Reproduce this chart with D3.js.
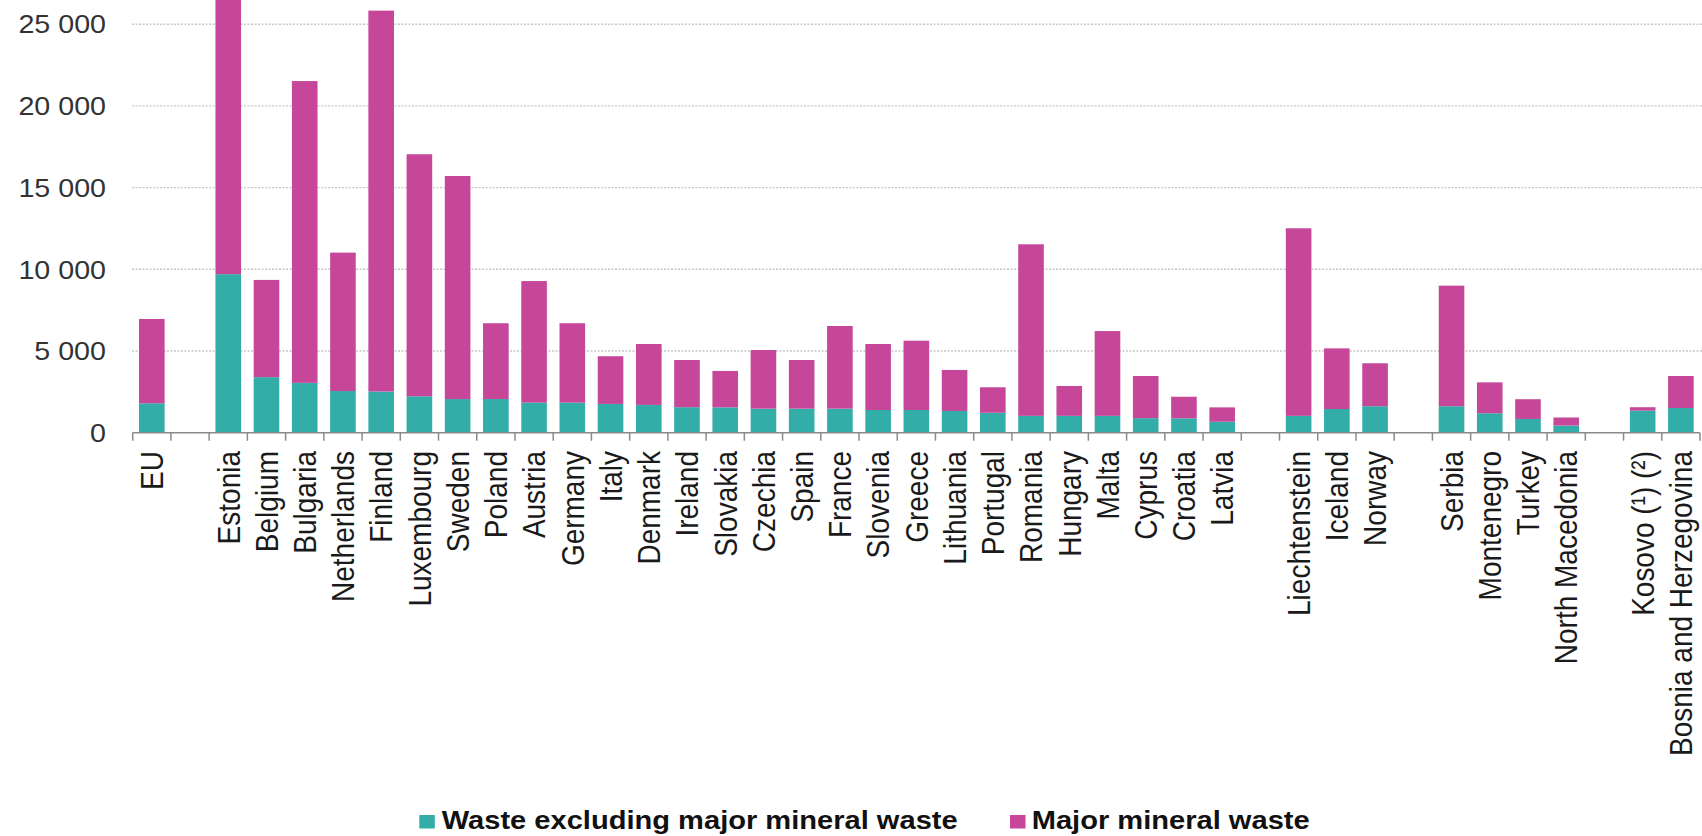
<!DOCTYPE html>
<html>
<head>
<meta charset="utf-8">
<script src="https://cdn.jsdelivr.net/npm/d3@7"></script>
<style>
  body { margin: 0; background: #fff; }
  svg { display: block; }
</style>
</head>
<body>
<svg id="chart"></svg>
<script>
// categories, "" entries are the empty slots between country groups
const countries = [
  "EU", "",
  "Estonia", "Belgium", "Bulgaria", "Netherlands", "Finland", "Luxembourg", "Sweden",
  "Poland", "Austria", "Germany", "Italy", "Denmark", "Ireland", "Slovakia", "Czechia",
  "Spain", "France", "Slovenia", "Greece", "Lithuania", "Portugal", "Romania", "Hungary",
  "Malta", "Cyprus", "Croatia", "Latvia", "",
  "Liechtenstein", "Iceland", "Norway", "",
  "Serbia", "Montenegro", "Turkey", "North Macedonia", "",
  "Kosovo (¹) (²)", "Bosnia and Herzegovina"
];

// kg per inhabitant
const wasteExclMineral = [
  1800, null,
  9700, 3400, 3050, 2550, 2520, 2230, 2060,
  2060, 1840, 1840, 1760, 1700, 1560, 1550, 1470,
  1470, 1470, 1390, 1390, 1330, 1220, 1030, 1030,
  1030, 890, 880, 670, null,
  1030, 1450, 1620, null,
  1620, 1190, 840, 440, null,
  1350, 1510
];

const majorMineral = [
  5160, null,
  17300, 5950, 18470, 8470, 23310, 14810, 13650,
  4640, 7440, 4860, 2920, 3730, 2890, 2230, 3590,
  2980, 5060, 4040, 4240, 2510, 1560, 10500, 1830,
  5190, 2580, 1320, 880, null,
  11480, 3710, 2630, null,
  7380, 1890, 1210, 490, null,
  210, 1960
];

const seriesNames = ["Waste excluding major mineral waste", "Major mineral waste"];
const seriesColors = ["#32ada8", "#c6479a"];
const yTicks = [0, 5000, 10000, 15000, 20000, 25000];

const width = 1702;
const height = 836;
const stretch = 1.12; // the picture's text is a little wider than it is tall

const svg = d3.select("#chart")
  .attr("width", width)
  .attr("height", height)
  .style("font-family", "'Liberation Sans', Arial, sans-serif");

// slot keys so that the empty slots stay distinct
const slots = countries.map((c, i) => i);
const rows = slots.map((i) => ({
  i: i,
  name: countries[i],
  low: wasteExclMineral[i],
  high: majorMineral[i],
}));

const x = d3.scaleBand()
  .domain(slots)
  .range([132.7, 1700])
  .paddingInner(0.33)
  .paddingOuter(0.165);

const y = d3.scaleLinear()
  .domain([0, 26480])
  .range([432.7, 0]);

// grid
svg.append("g")
  .selectAll("line")
  .data(yTicks.filter((d) => d > 0))
  .join("line")
  .attr("x1", 132)
  .attr("x2", width)
  .attr("y1", (d) => y(d))
  .attr("y2", (d) => y(d))
  .attr("stroke", "#c8c8c8")
  .attr("stroke-width", 1.4)
  .attr("stroke-dasharray", "2,1.5");

// y labels
svg.append("g")
  .selectAll("text")
  .data(yTicks)
  .join("text")
  .attr("transform", (d) => `translate(106,${y(d)}) scale(${stretch},1)`)
  .attr("text-anchor", "end")
  .attr("dy", "0.36em")
  .attr("font-size", 25.6)
  .attr("fill", "#333")
  .text((d) => d3.format(",")(d).replace(/,/g, " "));

// stacked bars
const stack = d3.stack().keys(["low", "high"]);
const layers = stack(rows.filter((r) => r.name !== ""));

svg.append("g")
  .selectAll("g")
  .data(layers)
  .join("g")
  .attr("fill", (d, i) => seriesColors[i])
  .selectAll("rect")
  .data((d) => d)
  .join("rect")
  .attr("x", (d) => x(d.data.i))
  .attr("width", x.bandwidth())
  .attr("y", (d) => y(d[1]))
  .attr("height", (d) => y(d[0]) - y(d[1]));

// x axis line and ticks at slot borders
const gap = (x.step() - x.bandwidth()) / 2;
const borders = slots.map((s) => x(s) - gap).concat([x(slots[slots.length - 1]) + x.bandwidth() + gap]);

const axis = svg.append("g").attr("stroke", "#8a8a8a").attr("stroke-width", 1.5);
axis.append("line")
  .attr("x1", borders[0])
  .attr("x2", borders[borders.length - 1])
  .attr("y1", y(0))
  .attr("y2", y(0));
axis.selectAll("line.tick")
  .data(borders)
  .join("line")
  .attr("class", "tick")
  .attr("x1", (d) => d)
  .attr("x2", (d) => d)
  .attr("y1", y(0))
  .attr("y2", y(0) + 8);

// category labels, rotated
svg.append("g")
  .selectAll("text")
  .data(rows.filter((r) => r.name !== ""))
  .join("text")
  .attr("transform", (d) =>
    `translate(${x(d.i) + x.bandwidth() / 2},451) scale(${stretch},1) rotate(-90)`)
  .attr("text-anchor", "end")
  .attr("dy", "0.36em")
  .attr("font-size", 28)
  .attr("fill", "#1a1a1a")
  .text((d) => d.name);

// legend
const legendItems = [
  { sq: 419.3, tx: 441.7, len: 516 },
  { sq: 1010, tx: 1031.7, len: 278 },
];

const legend = svg.append("g")
  .selectAll("g")
  .data(legendItems)
  .join("g");

legend.append("rect")
  .attr("x", (d) => d.sq)
  .attr("y", 815)
  .attr("width", 15.5)
  .attr("height", 13.5)
  .attr("fill", (d, i) => seriesColors[i]);

legend.append("text")
  .attr("x", (d) => d.tx)
  .attr("y", 828.5)
  .attr("font-size", 25.6)
  .attr("font-weight", "bold")
  .attr("fill", "#111")
  .attr("textLength", (d) => d.len)
  .attr("lengthAdjust", "spacingAndGlyphs")
  .text((d, i) => seriesNames[i]);
</script>
</body>
</html>
